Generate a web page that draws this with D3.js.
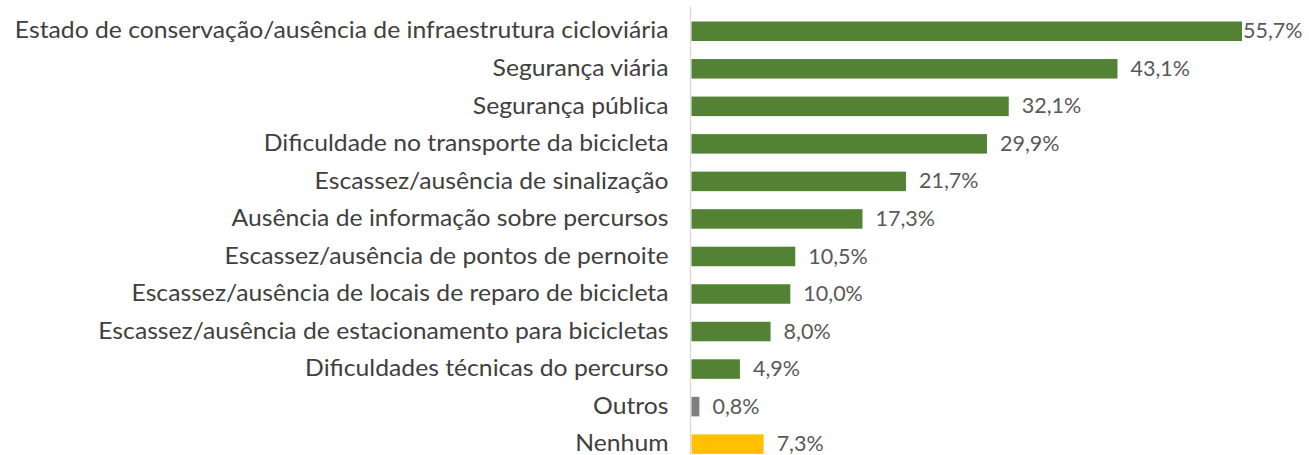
<!DOCTYPE html>
<html>
<head>
<meta charset="utf-8">
<script src="https://cdn.jsdelivr.net/npm/d3@7"></script>
<style>
  body { margin: 0; background: #fff; }
  svg text { font-family: Lato, "Open Sans", sans-serif; }
</style>
</head>
<body>
<script>
// data
var categories = [
  "Estado de conservação/ausência de infraestrutura cicloviária",
  "Segurança viária",
  "Segurança pública",
  "Dificuldade no transporte da bicicleta",
  "Escassez/ausência de sinalização",
  "Ausência de informação sobre percursos",
  "Escassez/ausência de pontos de pernoite",
  "Escassez/ausência de locais de reparo de bicicleta",
  "Escassez/ausência de estacionamento para bicicletas",
  "Dificuldades técnicas do percurso",
  "Outros",
  "Nenhum"
];
var values = [55.7, 43.1, 32.1, 29.9, 21.7, 17.3, 10.5, 10.0, 8.0, 4.9, 0.8, 7.3];
var barColors = ["#548235", "#548235", "#548235", "#548235", "#548235", "#548235",
                 "#548235", "#548235", "#548235", "#548235", "#7f7f7f", "#ffc000"];

var svgWidth = 1309;
var svgHeight = 455;
var chartMargin = { top: 12.5, left: 690.5 };
var bandsHeight = 450.4;

var svg = d3.select("body")
  .append("svg")
  .attr("width", svgWidth)
  .attr("height", svgHeight);

var chartGroup = svg.append("g")
  .attr("transform", `translate(${chartMargin.left}, ${chartMargin.top})`);

var yBandScale = d3.scaleBand()
  .domain(categories)
  .range([0, bandsHeight])
  .paddingInner(0.48)
  .paddingOuter(0.24);

var xLinearScale = d3.scaleLinear()
  .domain([0, 55.7])
  .range([0, 550.5]);

// left axis: only the line and category labels
var leftAxis = d3.axisLeft(yBandScale).tickSize(0).tickPadding(22);
var axisG = chartGroup.append("g").call(leftAxis);
axisG.select(".domain")
  .attr("d", `M0,-6V${svgHeight - chartMargin.top}`)
  .attr("stroke", "#d9d9d9")
  .attr("stroke-width", 1.3);
axisG.selectAll("text")
  .attr("font-size", 24)
  .attr("dy", "0.3em")
  .attr("fill", "#404040")
  .style("font-family", "Lato, 'Open Sans', sans-serif");
// Calibri-like proportions: a bit wider than Lato at this size
axisG.selectAll("text")
  .attr("x", -22 / 1.03)
  .attr("transform", "scale(1.03,1)");

var data = categories.map(function(c, i) {
  return { name: c, value: values[i], color: barColors[i] };
});

chartGroup.selectAll(".bar")
  .data(data)
  .enter()
  .append("rect")
  .attr("class", "bar")
  .attr("x", 1)
  .attr("y", d => yBandScale(d.name))
  .attr("height", yBandScale.bandwidth())
  .attr("width", d => xLinearScale(d.value))
  .attr("fill", d => d.color);

chartGroup.selectAll(".val")
  .data(data)
  .enter()
  .append("text")
  .attr("class", "val")
  .attr("x", d => xLinearScale(d.value) + 14)
  .attr("y", d => yBandScale(d.name) + yBandScale.bandwidth() / 2)
  .attr("dy", "0.33em")
  .attr("font-size", 21.5)
  .attr("fill", "#595959")
  .text(d => d.value.toFixed(1).replace(".", ",") + "%");

// keep the top label from running off the page
chartGroup.selectAll(".val").each(function(d) {
  var w = this.getComputedTextLength();
  var x = xLinearScale(d.value) + 14;
  if (chartMargin.left + x + w > svgWidth - 2) {
    d3.select(this).attr("x", xLinearScale(d.value) + 2);
  }
});
</script>
</body>
</html>
